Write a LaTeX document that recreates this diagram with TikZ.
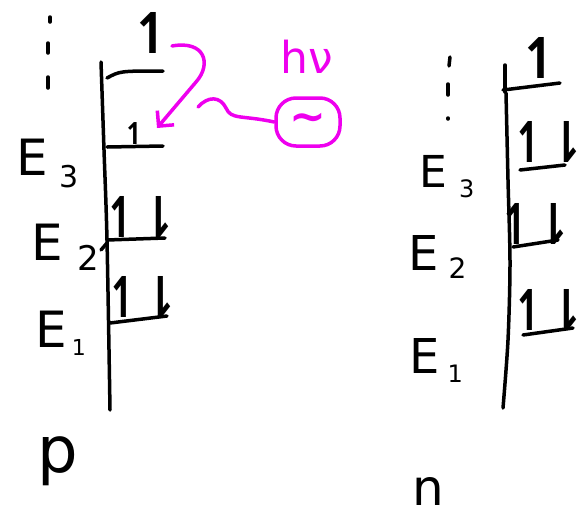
\documentclass[tikz,border=0pt]{standalone}
\usepackage{fontspec}
\usepackage{graphicx}
\setmainfont{DejaVu Sans}
\usetikzlibrary{arrows.meta}
\definecolor{mag}{RGB}{238,0,238}
\newcommand{\spinpair}{\scalebox{0.78}[1]{↿⇂}}
\begin{document}
\begin{tikzpicture}[x=1pt,y=-1pt,
  ink/.style={line width=3.5pt,line cap=round,line join=round},
  lbl/.style={inner sep=0pt,font=\fontsize{50}{50}\selectfont},
  spinlbl/.style={inner sep=0pt,anchor=base,font=\bfseries\fontsize{56}{56}\selectfont}]
\useasboundingbox (0,0) rectangle (585,517);

% ---------- left panel (p) ----------
\draw[ink] plot[smooth] coordinates {(101,62) (104,150) (107,240) (110,410)};
\draw[ink] (107,243) -- (101,250);
\draw[ink] (107,78) .. controls (120,71) .. (163,71);
\draw[ink] (107,147) -- (163,146);
\draw[ink] (107,240) -- (165,238);
\draw[ink] (110,323) -- (167,316);
\draw[ink] (50,17) -- (50,22);
\draw[ink] (48,43) -- (48,53);
\draw[ink] (48,77) -- (48,88);

\node[spinlbl] (lup) at (153,53) {↿};
\node[spinlbl,font=\bfseries\fontsize{30}{30}\selectfont] (lthree) at (135,144) {↿};
\node[spinlbl] (ltwo) at (140,237) {\spinpair};
\node[spinlbl] (lone) at (142,317) {\spinpair};

\node[lbl,anchor=base west] (lE3) at (16,175) {E\kern12pt\raisebox{-12pt}{\fontsize{30}{30}\selectfont 3}};
\node[lbl,anchor=base west] (lE2) at (31,260) {E\kern15pt\raisebox{-10pt}{\fontsize{34}{34}\selectfont 2}};
\node[lbl,anchor=base west] (lE1) at (35,347) {E\kern5pt\raisebox{-8pt}{\fontsize{22}{22}\selectfont 1}};
\node[lbl,font=\fontsize{64}{64}\selectfont,anchor=base] (p) at (58,472) {p};

% photon
\node[lbl,text=mag,font=\fontsize{44}{44}\selectfont] (hnu) at (307,57) {hν};
\node[draw=mag,line width=3.5pt,rounded corners=20pt,minimum width=64pt,minimum height=48pt,text=mag,inner sep=0pt,font=\bfseries\fontsize{44}{44}\selectfont] (osc) at (308,122) {∼};
\coordinate (wstart) at (198,107);
\draw[ink,mag] (wstart) .. controls (208,96) and (220,96) .. (226,108)
   .. controls (231,120) and (242,115) .. (osc.west);
\coordinate (astart) at (172,46);
\coordinate (aend) at (157,128);
\draw[ink,mag,-{Straight Barb[length=11pt,width=22pt,line width=3.5pt]}]
   (astart) .. controls (205,40) and (212,64) .. (196,82) -- (aend);

% ---------- right panel (n) ----------
\draw[ink] (505,65) -- (505,92);
\draw[ink] (503,90) -- (560,83);
\draw[ink] plot[smooth] coordinates {(506,93) (508,180) (510,263) (508,340) (503,408)};
\draw[ink] (520,170) -- (565,165);
\draw[ink] (513,247) -- (558,240);
\draw[ink] (523,335) -- (573,328);
\draw[ink] (450,57) -- (449,66);
\draw[ink] (448,84) -- (448,95);
\draw[ink] (448,118) -- (448,119);

\node[spinlbl] (rup) at (541,78) {↿};
\node[spinlbl] (rthree) at (548,162) {\spinpair};
\node[spinlbl] (rtwo) at (535,244) {\spinpair};
\node[spinlbl] (rone) at (548,330) {\spinpair};

\node[lbl,font=\fontsize{44}{44}\selectfont,anchor=base west] (rE3) at (419,187) {E\kern12pt\raisebox{-10pt}{\fontsize{24}{24}\selectfont 3}};
\node[lbl,font=\fontsize{48}{48}\selectfont,anchor=base west] (rE2) at (408,270) {E\kern10pt\raisebox{-8pt}{\fontsize{28}{28}\selectfont 2}};
\node[lbl,font=\fontsize{48}{48}\selectfont,anchor=base west] (rE1) at (409,373) {E\kern8pt\raisebox{-9pt}{\fontsize{24}{24}\selectfont 1}};
\node[lbl,anchor=base,text depth=0pt] (n) at (428,505) {n};
\end{tikzpicture}
\end{document}
